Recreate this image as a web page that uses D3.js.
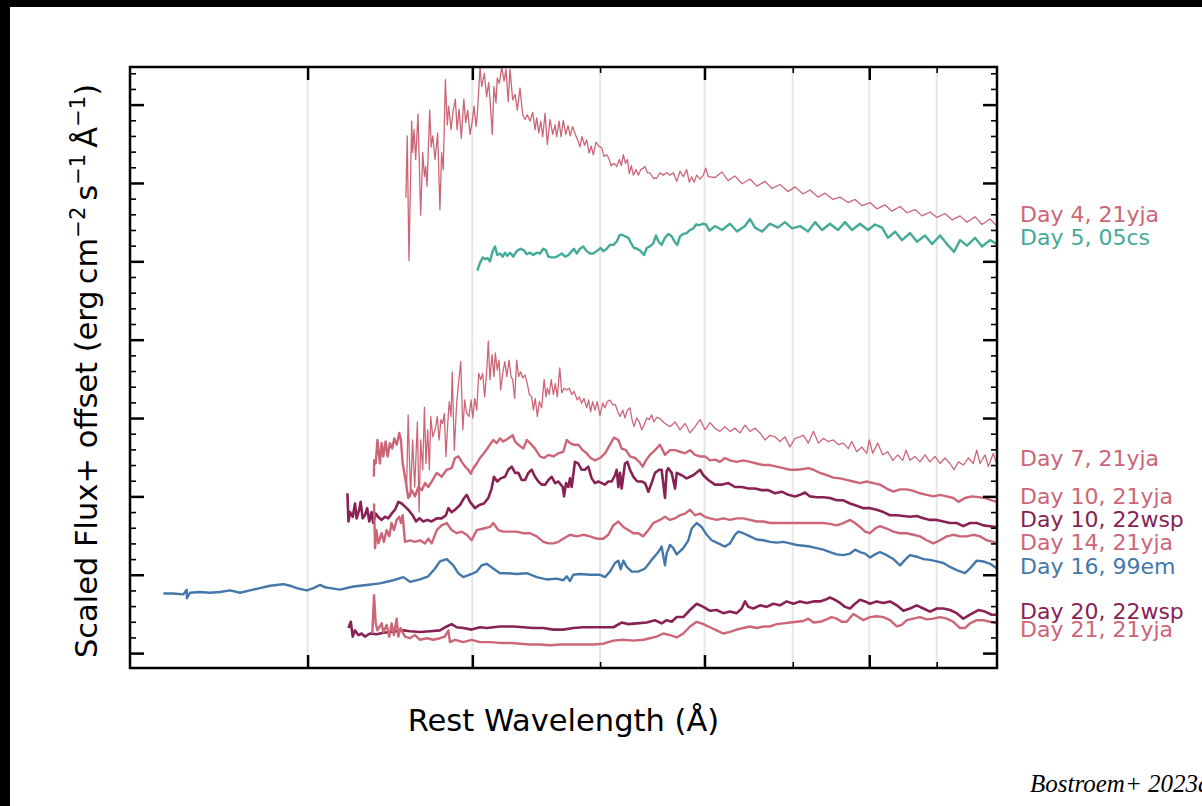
<!DOCTYPE html>
<html><head><meta charset="utf-8">
<script src="https://cdn.jsdelivr.net/npm/d3@7"></script>
<style>body{margin:0;background:#fff;}svg{display:block;}</style>
</head><body>
<svg id="c" width="1202" height="806"></svg>
<script>
// ---------------- data (rest wavelength in Å, scaled flux + offset) ----------------
const day4_21yja = [[3562,5.81],[3570,6.60],[3581,5.01],[3598,6.79],[3604,6.39],[3613,6.68],[3623,6.30],[3638,6.88],[3655,5.59],[3668,6.39],[3679,6.08],[3687,6.21],[3696,5.96],[3713,6.93],[3723,6.46],[3733,6.60],[3748,6.30],[3765,6.64],[3780,5.66],[3791,6.39],[3802,6.17],[3816,7.32],[3829,6.74],[3838,6.98],[3854,6.68],[3869,6.93],[3883,7.07],[3895,6.68],[3909,6.94],[3924,6.57],[3941,7.07],[3954,6.77],[3968,6.93],[3984,6.62],[3998,6.77],[4012,6.98],[4026,6.72],[4035,6.87],[4054,7.48],[4066,7.23],[4085,7.40],[4101,7.10],[4116,7.28],[4125,7.08],[4142,6.62],[4154,7.23],[4169,7.02],[4178,7.34],[4193,7.27],[4211,7.48],[4228,7.30],[4242,7.45],[4259,7.04],[4272,7.45],[4292,7.06],[4310,7.13],[4327,6.93],[4347,7.21],[4368,6.87],[4386,6.81],[4403,6.87],[4424,6.79],[4445,6.90],[4463,6.68],[4476,6.83],[4492,6.64],[4508,6.79],[4523,6.59],[4542,6.89],[4560,6.49],[4581,6.81],[4603,6.62],[4622,6.74],[4635,6.59],[4654,6.79],[4670,6.59],[4689,6.80],[4709,6.62],[4728,6.73],[4746,6.60],[4766,6.72],[4788,6.62],[4808,6.55],[4827,6.46],[4844,6.59],[4867,6.48],[4884,6.55],[4906,6.38],[4923,6.47],[4941,6.36],[4964,6.52],[4988,6.47],[5014,6.45],[5034,6.34],[5058,6.36],[5081,6.30],[5096,6.22],[5123,6.25],[5147,6.21],[5171,6.30],[5189,6.22],[5207,6.36],[5226,6.25],[5244,6.30],[5262,6.12],[5280,6.22],[5299,6.10],[5324,6.17],[5345,6.10],[5368,6.17],[5392,6.19],[5408,6.21],[5430,6.13],[5455,6.13],[5487,6.06],[5519,6.06],[5551,6.13],[5583,6.10],[5617,6.13],[5649,6.10],[5682,6.13],[5716,6.02],[5749,6.15],[5782,6.08],[5816,6.17],[5843,6.01],[5867,6.08],[5891,6.01],[5919,6.10],[5953,6.05],[5988,6.10],[6013,6.19],[6040,6.08],[6111,6.07],[6186,6.14],[6251,6.03],[6328,6.09],[6406,5.99],[6496,6.05],[6576,5.96],[6669,6.02],[6751,5.93],[6845,5.98],[6942,5.89],[7028,5.95],[7127,5.86],[7214,5.91],[7316,5.82],[7406,5.87],[7510,5.79],[7602,5.82],[7709,5.75],[7804,5.79],[7900,5.71],[8011,5.75],[8109,5.67],[8224,5.72],[8325,5.64],[8442,5.70],[8546,5.62],[8666,5.66],[8773,5.58],[8896,5.63],[9006,5.56],[9132,5.61],[9245,5.53],[9375,5.58],[9490,5.50],[9623,5.57],[9742,5.47],[9879,5.54],[10000,5.45]];

const day5_05cs = [[4035,4.88],[4054,4.98],[4073,5.05],[4090,5.03],[4109,5.04],[4125,5.00],[4145,5.13],[4162,5.19],[4178,5.08],[4198,5.10],[4218,5.06],[4235,5.11],[4252,5.07],[4272,5.11],[4297,5.06],[4322,5.13],[4352,5.16],[4378,5.14],[4398,5.09],[4424,5.11],[4450,5.08],[4476,5.11],[4502,5.10],[4528,5.16],[4549,5.14],[4567,5.06],[4595,5.05],[4622,5.05],[4648,5.07],[4676,5.10],[4703,5.06],[4731,5.08],[4758,5.13],[4777,5.16],[4800,5.10],[4827,5.16],[4855,5.19],[4884,5.13],[4912,5.10],[4941,5.10],[4970,5.13],[5005,5.17],[5028,5.13],[5058,5.16],[5087,5.21],[5117,5.21],[5147,5.25],[5171,5.33],[5192,5.34],[5222,5.32],[5253,5.30],[5275,5.24],[5305,5.17],[5336,5.16],[5368,5.13],[5399,5.08],[5424,5.17],[5455,5.19],[5487,5.23],[5513,5.33],[5538,5.25],[5567,5.21],[5600,5.30],[5632,5.35],[5666,5.32],[5699,5.24],[5722,5.21],[5749,5.32],[5782,5.35],[5816,5.36],[5850,5.40],[5884,5.42],[5912,5.47],[5946,5.46],[5981,5.48],[6016,5.47],[6051,5.39],[6111,5.45],[6186,5.40],[6273,5.48],[6351,5.38],[6440,5.45],[6496,5.54],[6553,5.43],[6634,5.38],[6727,5.48],[6821,5.43],[6905,5.50],[6991,5.42],[7089,5.45],[7189,5.38],[7278,5.50],[7367,5.40],[7470,5.48],[7576,5.40],[7669,5.50],[7763,5.40],[7872,5.48],[7983,5.40],[8081,5.47],[8181,5.43],[8267,5.30],[8369,5.38],[8472,5.27],[8590,5.36],[8696,5.25],[8819,5.33],[8927,5.22],[9053,5.33],[9164,5.22],[9277,5.12],[9375,5.27],[9490,5.20],[9623,5.30],[9742,5.19],[9879,5.27],[10000,5.22]];

const day7_21yja = [[3566,2.08],[3576,3.04],[3591,2.00],[3604,2.72],[3617,2.12],[3634,2.95],[3645,1.80],[3655,2.72],[3668,2.34],[3679,3.14],[3689,2.42],[3700,2.85],[3711,2.34],[3720,3.02],[3733,2.76],[3748,2.85],[3763,3.02],[3774,2.72],[3787,2.98],[3798,2.93],[3809,3.06],[3820,2.51],[3832,2.93],[3842,3.21],[3854,3.02],[3862,3.59],[3876,2.59],[3892,3.19],[3906,3.46],[3920,3.72],[3934,2.85],[3947,3.23],[3961,3.06],[3977,3.02],[3991,3.23],[4003,3.00],[4017,3.25],[4031,3.10],[4045,3.57],[4059,3.49],[4073,3.57],[4087,3.27],[4101,3.57],[4113,3.98],[4125,3.49],[4140,3.81],[4154,3.53],[4164,3.83],[4178,3.61],[4191,3.74],[4203,3.36],[4218,3.57],[4233,3.72],[4248,3.53],[4265,3.74],[4280,3.53],[4292,3.49],[4307,3.25],[4322,3.74],[4337,3.53],[4352,3.59],[4368,3.51],[4386,3.55],[4403,3.44],[4419,3.30],[4437,3.27],[4450,3.10],[4465,3.25],[4481,3.02],[4497,3.21],[4515,3.13],[4534,3.49],[4549,3.27],[4560,3.38],[4575,3.30],[4591,3.49],[4608,3.30],[4624,3.44],[4640,3.27],[4660,3.64],[4676,3.32],[4695,3.38],[4717,3.36],[4738,3.38],[4758,3.30],[4777,3.34],[4805,3.23],[4821,3.27],[4841,3.19],[4861,3.25],[4884,3.13],[4901,3.23],[4918,3.08],[4935,3.21],[4955,3.10],[4975,3.21],[4999,3.03],[5023,3.19],[5043,3.13],[5063,3.21],[5087,3.23],[5111,3.17],[5135,3.17],[5157,3.08],[5177,3.02],[5202,3.10],[5222,3.00],[5244,3.10],[5268,3.13],[5287,2.98],[5305,2.89],[5330,3.00],[5354,2.95],[5377,2.85],[5399,2.91],[5424,3.00],[5448,2.98],[5471,3.04],[5493,2.95],[5519,3.01],[5544,3.00],[5600,2.93],[5649,2.89],[5699,2.95],[5749,2.85],[5800,2.93],[5850,2.81],[5902,2.89],[5953,2.98],[6006,2.85],[6058,2.94],[6111,2.87],[6164,2.83],[6218,2.89],[6273,2.83],[6328,2.87],[6384,2.81],[6440,2.91],[6496,2.83],[6553,2.87],[6611,2.81],[6669,2.72],[6727,2.78],[6786,2.76],[6845,2.70],[6905,2.76],[6966,2.63],[7028,2.74],[7089,2.76],[7131,2.78],[7193,2.68],[7257,2.83],[7320,2.68],[7384,2.74],[7448,2.70],[7514,2.72],[7580,2.66],[7646,2.68],[7713,2.61],[7759,2.70],[7827,2.57],[7896,2.63],[7965,2.55],[8001,2.72],[8049,2.55],[8119,2.68],[8191,2.53],[8263,2.57],[8336,2.46],[8409,2.53],[8482,2.46],[8531,2.59],[8590,2.46],[8666,2.51],[8742,2.44],[8819,2.53],[8896,2.44],[8974,2.51],[9053,2.42],[9132,2.49],[9212,2.42],[9277,2.34],[9348,2.44],[9429,2.40],[9511,2.49],[9595,2.42],[9652,2.59],[9708,2.42],[9793,2.53],[9850,2.38],[9936,2.55],[10000,2.40]];

const day10_21yja = [[3368,2.25],[3370,2.46],[3379,2.42],[3389,2.72],[3404,2.42],[3414,2.68],[3424,2.51],[3438,2.70],[3450,2.51],[3464,2.68],[3478,2.61],[3490,2.74],[3505,2.66],[3521,2.81],[3531,2.72],[3542,2.42],[3556,2.25],[3577,1.98],[3598,2.08],[3619,2.00],[3640,2.12],[3662,2.08],[3683,2.17],[3704,2.12],[3726,2.19],[3759,2.30],[3791,2.25],[3825,2.34],[3858,2.36],[3881,2.49],[3904,2.51],[3927,2.44],[3950,2.38],[3972,2.34],[3989,2.29],[4007,2.36],[4031,2.42],[4054,2.49],[4090,2.57],[4125,2.66],[4149,2.72],[4174,2.68],[4198,2.74],[4222,2.70],[4259,2.74],[4292,2.78],[4310,2.70],[4335,2.66],[4373,2.61],[4399,2.72],[4424,2.68],[4463,2.61],[4502,2.51],[4534,2.49],[4568,2.53],[4608,2.51],[4648,2.55],[4689,2.57],[4717,2.72],[4744,2.68],[4771,2.66],[4813,2.66],[4850,2.59],[4884,2.55],[4918,2.49],[4955,2.46],[4999,2.49],[5043,2.55],[5087,2.66],[5123,2.75],[5162,2.72],[5192,2.61],[5231,2.59],[5268,2.51],[5314,2.49],[5354,2.44],[5386,2.38],[5417,2.46],[5455,2.53],[5503,2.59],[5551,2.66],[5600,2.53],[5649,2.59],[5699,2.59],[5749,2.57],[5800,2.55],[5850,2.59],[5902,2.53],[5953,2.51],[6006,2.51],[6058,2.46],[6111,2.47],[6164,2.44],[6218,2.49],[6273,2.46],[6347,2.44],[6421,2.46],[6496,2.44],[6573,2.42],[6650,2.40],[6727,2.40],[6806,2.38],[6885,2.36],[6966,2.34],[7048,2.34],[7131,2.35],[7193,2.36],[7257,2.34],[7341,2.30],[7427,2.27],[7514,2.24],[7602,2.23],[7691,2.21],[7781,2.19],[7872,2.17],[7965,2.19],[8058,2.17],[8152,2.15],[8248,2.10],[8345,2.06],[8442,2.09],[8541,2.09],[8641,2.07],[8742,2.04],[8845,2.02],[8948,2.00],[9053,2.02],[9159,2.00],[9266,1.98],[9348,1.93],[9457,1.98],[9567,2.00],[9679,1.99],[9793,1.98],[9908,1.95],[10000,1.93]];

const day10_22wsp = [[3216,2.04],[3222,1.68],[3231,1.80],[3246,1.74],[3259,1.91],[3268,1.72],[3283,1.83],[3291,1.93],[3303,1.72],[3316,1.76],[3329,1.85],[3341,1.68],[3355,1.80],[3364,1.66],[3380,1.78],[3393,1.74],[3414,1.70],[3434,1.74],[3454,1.72],[3474,1.78],[3495,1.83],[3515,1.93],[3536,1.91],[3556,1.87],[3577,1.83],[3604,1.76],[3625,1.68],[3647,1.72],[3672,1.68],[3698,1.70],[3726,1.68],[3759,1.72],[3791,1.72],[3820,1.76],[3836,1.85],[3858,1.80],[3881,1.83],[3915,1.89],[3943,1.98],[3961,2.02],[3984,1.93],[4019,1.85],[4049,1.89],[4082,1.91],[4113,1.98],[4137,2.10],[4154,2.25],[4178,2.19],[4203,2.23],[4235,2.25],[4259,2.34],[4285,2.38],[4310,2.30],[4335,2.30],[4360,2.21],[4386,2.21],[4411,2.30],[4437,2.34],[4463,2.25],[4489,2.19],[4515,2.15],[4542,2.15],[4568,2.21],[4595,2.25],[4622,2.17],[4648,2.19],[4684,2.12],[4695,2.00],[4711,2.17],[4730,2.12],[4744,2.23],[4758,2.12],[4785,2.44],[4813,2.42],[4841,2.34],[4869,2.34],[4898,2.38],[4927,2.23],[4955,2.17],[4985,2.19],[5014,2.17],[5043,2.15],[5072,2.19],[5102,2.19],[5132,2.27],[5147,2.34],[5162,2.12],[5177,2.30],[5192,2.10],[5222,2.42],[5244,2.44],[5268,2.34],[5299,2.25],[5336,2.19],[5377,2.19],[5408,2.17],[5440,2.06],[5471,2.17],[5503,2.30],[5544,2.34],[5567,2.34],[5600,1.98],[5616,2.32],[5632,2.36],[5666,2.30],[5699,2.10],[5716,2.30],[5766,2.27],[5816,2.23],[5884,2.27],[5953,2.34],[5988,2.27],[6040,2.21],[6111,2.15],[6182,2.15],[6255,2.17],[6328,2.12],[6403,2.12],[6478,2.10],[6553,2.10],[6630,2.08],[6707,2.08],[6786,2.04],[6865,2.06],[6946,2.02],[7028,2.00],[7089,2.02],[7152,2.05],[7214,2.00],[7299,1.99],[7384,1.99],[7470,1.98],[7558,1.95],[7646,1.95],[7736,1.91],[7827,1.88],[7919,1.85],[8011,1.85],[8105,1.83],[8200,1.80],[8296,1.76],[8394,1.76],[8491,1.75],[8590,1.74],[8692,1.75],[8794,1.72],[8896,1.70],[9001,1.70],[9106,1.68],[9212,1.66],[9321,1.66],[9429,1.62],[9539,1.66],[9652,1.66],[9765,1.63],[9879,1.62],[10000,1.61]];

const day14_21yja = [[3369,1.91],[3375,1.34],[3383,1.57],[3395,1.40],[3414,1.53],[3428,1.42],[3444,1.57],[3460,1.49],[3474,1.66],[3488,1.57],[3505,1.70],[3521,1.74],[3531,1.66],[3542,1.76],[3556,1.42],[3587,1.44],[3619,1.42],[3651,1.44],[3683,1.40],[3704,1.46],[3726,1.40],[3759,1.57],[3791,1.63],[3825,1.66],[3858,1.57],[3892,1.53],[3927,1.55],[3961,1.51],[3995,1.44],[4031,1.57],[4080,1.59],[4125,1.61],[4149,1.66],[4186,1.57],[4222,1.55],[4272,1.55],[4322,1.55],[4373,1.53],[4424,1.53],[4476,1.49],[4528,1.42],[4568,1.40],[4608,1.40],[4648,1.42],[4689,1.46],[4744,1.51],[4800,1.49],[4855,1.51],[4912,1.49],[4970,1.46],[5028,1.46],[5072,1.51],[5117,1.63],[5162,1.68],[5207,1.61],[5253,1.57],[5299,1.53],[5345,1.53],[5392,1.49],[5440,1.57],[5487,1.66],[5551,1.70],[5600,1.74],[5649,1.70],[5699,1.72],[5749,1.76],[5800,1.78],[5850,1.83],[5902,1.76],[5953,1.78],[6006,1.74],[6058,1.72],[6129,1.70],[6200,1.72],[6273,1.70],[6347,1.72],[6421,1.72],[6496,1.70],[6573,1.68],[6650,1.68],[6727,1.66],[6806,1.66],[6885,1.66],[6966,1.66],[7048,1.66],[7131,1.66],[7214,1.66],[7299,1.66],[7384,1.66],[7470,1.65],[7558,1.63],[7646,1.66],[7736,1.70],[7804,1.66],[7872,1.61],[7942,1.55],[8011,1.53],[8081,1.59],[8152,1.62],[8248,1.59],[8345,1.55],[8442,1.53],[8541,1.53],[8641,1.51],[8742,1.49],[8845,1.44],[8948,1.40],[9053,1.44],[9159,1.49],[9266,1.51],[9375,1.49],[9485,1.49],[9595,1.51],[9708,1.49],[9822,1.44],[9936,1.42],[10000,1.40]];

const day16_99em = [[2332,0.76],[2373,0.76],[2415,0.75],[2429,0.81],[2430,0.70],[2443,0.77],[2486,0.78],[2530,0.77],[2574,0.78],[2620,0.80],[2666,0.77],[2713,0.80],[2761,0.83],[2809,0.86],[2843,0.87],[2876,0.88],[2909,0.86],[2943,0.83],[2995,0.80],[3031,0.83],[3066,0.87],[3093,0.84],[3120,0.83],[3175,0.81],[3250,0.85],[3326,0.87],[3404,0.89],[3484,0.93],[3546,0.97],[3587,0.91],[3651,0.94],[3704,0.98],[3748,1.08],[3780,1.17],[3825,1.20],[3869,1.12],[3903,1.02],[3938,0.97],[3995,1.01],[4031,1.04],[4066,1.12],[4101,1.14],[4149,1.08],[4198,1.02],[4248,1.02],[4322,1.01],[4399,1.02],[4476,0.97],[4555,0.94],[4635,0.95],[4689,0.93],[4717,0.98],[4744,0.92],[4771,1.00],[4827,1.01],[4912,1.00],[4999,1.00],[5043,0.97],[5087,1.04],[5132,1.15],[5162,1.18],[5183,1.07],[5207,1.18],[5238,1.10],[5284,1.04],[5345,1.04],[5408,1.08],[5471,1.19],[5535,1.29],[5567,1.36],[5600,1.12],[5616,1.27],[5649,1.38],[5682,1.34],[5716,1.26],[5782,1.34],[5833,1.44],[5867,1.59],[5919,1.66],[5970,1.61],[6023,1.51],[6076,1.44],[6147,1.40],[6218,1.36],[6273,1.40],[6328,1.51],[6365,1.55],[6421,1.53],[6496,1.49],[6573,1.45],[6650,1.44],[6727,1.42],[6806,1.41],[6885,1.42],[6966,1.40],[7048,1.38],[7131,1.37],[7214,1.36],[7299,1.34],[7384,1.32],[7470,1.29],[7558,1.26],[7646,1.25],[7736,1.27],[7804,1.32],[7872,1.29],[7942,1.27],[8011,1.22],[8081,1.26],[8152,1.29],[8248,1.25],[8345,1.20],[8442,1.12],[8516,1.19],[8590,1.25],[8692,1.23],[8794,1.20],[8896,1.19],[9001,1.17],[9106,1.15],[9212,1.10],[9321,1.06],[9457,1.02],[9539,1.08],[9652,1.18],[9765,1.17],[9879,1.14],[10000,1.08]];

const day20_22wsp = [[3222,0.32],[3235,0.40],[3246,0.21],[3259,0.29],[3278,0.23],[3297,0.25],[3316,0.21],[3345,0.25],[3384,0.24],[3424,0.26],[3464,0.27],[3505,0.28],[3546,0.29],[3587,0.28],[3651,0.27],[3715,0.28],[3780,0.29],[3825,0.34],[3858,0.37],[3892,0.33],[3938,0.32],[3995,0.30],[4054,0.33],[4101,0.32],[4149,0.33],[4198,0.34],[4248,0.34],[4297,0.34],[4373,0.33],[4450,0.32],[4528,0.32],[4608,0.30],[4689,0.30],[4771,0.32],[4855,0.33],[4941,0.33],[5028,0.33],[5117,0.33],[5192,0.39],[5253,0.37],[5330,0.38],[5424,0.39],[5503,0.42],[5567,0.38],[5616,0.42],[5666,0.40],[5716,0.46],[5782,0.46],[5850,0.55],[5919,0.63],[5988,0.59],[6058,0.54],[6129,0.55],[6200,0.51],[6273,0.53],[6347,0.51],[6403,0.57],[6440,0.66],[6478,0.59],[6534,0.57],[6611,0.61],[6688,0.59],[6766,0.63],[6845,0.61],[6926,0.66],[7007,0.63],[7089,0.66],[7172,0.64],[7257,0.66],[7341,0.66],[7406,0.68],[7470,0.71],[7536,0.68],[7602,0.64],[7669,0.59],[7736,0.57],[7804,0.63],[7872,0.68],[7942,0.66],[8011,0.63],[8105,0.66],[8200,0.64],[8296,0.66],[8394,0.61],[8491,0.54],[8590,0.57],[8692,0.61],[8794,0.57],[8896,0.53],[9001,0.57],[9106,0.57],[9212,0.55],[9321,0.51],[9429,0.44],[9539,0.49],[9679,0.55],[9793,0.53],[9908,0.49],[10000,0.49]];

const day21_21yja = [[3359,0.25],[3369,0.74],[3379,0.38],[3389,0.29],[3414,0.38],[3424,0.27],[3444,0.36],[3460,0.21],[3474,0.38],[3488,0.23],[3505,0.44],[3515,0.21],[3529,0.32],[3556,0.21],[3587,0.19],[3619,0.23],[3651,0.17],[3694,0.19],[3737,0.17],[3780,0.19],[3813,0.21],[3836,0.29],[3847,0.14],[3881,0.17],[3938,0.14],[3995,0.17],[4054,0.14],[4125,0.14],[4198,0.13],[4272,0.13],[4347,0.12],[4424,0.11],[4502,0.11],[4581,0.10],[4662,0.11],[4744,0.11],[4827,0.11],[4941,0.11],[5028,0.12],[5117,0.16],[5207,0.17],[5299,0.16],[5392,0.17],[5455,0.19],[5519,0.21],[5583,0.25],[5649,0.23],[5716,0.20],[5782,0.25],[5850,0.34],[5919,0.40],[5988,0.37],[6058,0.33],[6129,0.29],[6200,0.25],[6273,0.27],[6347,0.30],[6421,0.32],[6496,0.34],[6573,0.32],[6650,0.34],[6727,0.34],[6806,0.37],[6885,0.38],[6966,0.39],[7048,0.40],[7131,0.41],[7193,0.44],[7257,0.39],[7341,0.40],[7427,0.43],[7492,0.46],[7558,0.44],[7624,0.40],[7691,0.40],[7781,0.50],[7849,0.46],[7919,0.42],[8011,0.46],[8105,0.47],[8200,0.46],[8296,0.42],[8394,0.34],[8467,0.36],[8541,0.42],[8641,0.44],[8742,0.46],[8845,0.43],[8948,0.44],[9053,0.46],[9159,0.44],[9266,0.40],[9375,0.32],[9457,0.32],[9539,0.38],[9652,0.42],[9765,0.42],[9879,0.40],[10000,0.38]];

const labelTexts = ["Day 4, 21yja","Day 5, 05cs","Day 7, 21yja","Day 10, 21yja","Day 10, 22wsp","Day 14, 21yja","Day 16, 99em","Day 20, 22wsp","Day 21, 21yja"];
const labelLevels = [5.50, 5.21, 2.39, 1.90, 1.61, 1.31, 1.01, 0.44, 0.21];
const xMajorTicks = [3000, 4000, 6000, 8000];
const xMinorTicks = [5000, 7000, 9000];
const xGrid = [3000, 4000, 5000, 6000, 7000, 8000, 9000];
const yMajorTicks = [0, 1, 2, 3, 4, 5, 6, 7];
const yMinorTicks = [0.2,0.4,0.6,0.8,1.2,1.4,1.6,1.8,2.2,2.4,2.6,2.8,3.2,3.4,3.6,3.8,4.2,4.4,4.6,4.8,5.2,5.4,5.6,5.8,6.2,6.4,6.6,6.8,7.2,7.4];

// ---------------- drawing ----------------
const C21 = "#CC6677", C05 = "#44AA99", C22 = "#882255", C99 = "#4477AA";
const series = [
  {data: day4_21yja,  color: C21, w: 1.3},
  {data: day5_05cs,   color: C05, w: 2.4},
  {data: day7_21yja,  color: C21, w: 1.3},
  {data: day10_21yja, color: C21, w: 2.4},
  {data: day10_22wsp, color: C22, w: 2.6},
  {data: day14_21yja, color: C21, w: 2.4},
  {data: day16_99em,  color: C99, w: 2.4},
  {data: day20_22wsp, color: C22, w: 2.6},
  {data: day21_21yja, color: C21, w: 2.4}
];
const labelColors = [C21, C05, C21, C21, C22, C21, C99, C22, C21];

const L = 130, R = 997, T = 67, B = 668;
const svg = d3.select("#c");
svg.append("rect").attr("width",1202).attr("height",806).attr("fill","#fff");

const x = d3.scaleLog().domain([2200, 10000]).range([L, R]);
const y = d3.scaleLinear().domain([-0.19, 7.48]).range([B, T]);

svg.append("defs").append("clipPath").attr("id","clip")
  .append("rect").attr("x",L).attr("y",T).attr("width",R-L).attr("height",B-T);

// grid
svg.append("g").selectAll("line").data(xGrid).join("line")
  .attr("x1", d=>x(d)).attr("x2", d=>x(d)).attr("y1", T).attr("y2", B)
  .attr("stroke", "#e6e6e6").attr("stroke-width", 2);

// spectra
const line = d3.line().x(d=>x(d[0])).y(d=>y(d[1]));
const gl = svg.append("g").attr("clip-path","url(#clip)");
series.forEach(s => {
  gl.append("path").datum(s.data).attr("d", line)
    .attr("fill","none").attr("stroke", s.color).attr("stroke-width", s.w)
    .attr("stroke-linejoin","round");
});

// axes ticks (inward, no labels)
function styleAxis(g, w){ g.select(".domain").remove(); g.selectAll("line").attr("stroke","#000").attr("stroke-width",w); g.selectAll("text").remove(); }
svg.append("g").attr("transform",`translate(0,${B})`).call(d3.axisBottom(x).tickValues(xMajorTicks).tickSize(-13).tickFormat("")).call(g=>styleAxis(g,2.5));
svg.append("g").attr("transform",`translate(0,${B})`).call(d3.axisBottom(x).tickValues(xMinorTicks).tickSize(-6).tickFormat("")).call(g=>styleAxis(g,1.6));
svg.append("g").attr("transform",`translate(0,${T})`).call(d3.axisTop(x).tickValues(xMajorTicks).tickSize(-13).tickFormat("")).call(g=>styleAxis(g,2.5));
svg.append("g").attr("transform",`translate(0,${T})`).call(d3.axisTop(x).tickValues(xMinorTicks).tickSize(-6).tickFormat("")).call(g=>styleAxis(g,1.6));
svg.append("g").attr("transform",`translate(${L},0)`).call(d3.axisLeft(y).tickValues(yMajorTicks).tickSize(-14).tickFormat("")).call(g=>styleAxis(g,2.5));
svg.append("g").attr("transform",`translate(${L},0)`).call(d3.axisLeft(y).tickValues(yMinorTicks).tickSize(-6).tickFormat("")).call(g=>styleAxis(g,1.6));
svg.append("g").attr("transform",`translate(${R},0)`).call(d3.axisRight(y).tickValues(yMajorTicks).tickSize(-14).tickFormat("")).call(g=>styleAxis(g,2.5));
svg.append("g").attr("transform",`translate(${R},0)`).call(d3.axisRight(y).tickValues(yMinorTicks).tickSize(-6).tickFormat("")).call(g=>styleAxis(g,1.6));

// frame
svg.append("rect").attr("x",L).attr("y",T).attr("width",R-L).attr("height",B-T)
  .attr("fill","none").attr("stroke","#000").attr("stroke-width",2.5);

// labels at right
svg.append("g").selectAll("text").data(labelTexts).join("text")
  .attr("x", R + 23).attr("y", (d,i)=>y(labelLevels[i]))
  .attr("fill", (d,i)=>labelColors[i])
  .attr("font-family","DejaVu Sans").attr("font-size",22)
  .text(d=>d);

// axis titles
svg.append("text").attr("x",(L+R)/2).attr("y",731).attr("text-anchor","middle")
  .attr("font-family","DejaVu Sans").attr("font-size",30.5).attr("fill","#000")
  .text("Rest Wavelength (Å)");

const yl = svg.append("text").attr("transform","translate(97,371) rotate(-90)")
  .attr("text-anchor","middle").attr("font-family","DejaVu Sans").attr("font-size",30.5).attr("fill","#000");
yl.append("tspan").text("Scaled Flux+ offset (erg\u2009cm");
yl.append("tspan").attr("dy",-12).attr("font-size",21).text("\u22122");
yl.append("tspan").attr("dy",12).text("\u2009s");
yl.append("tspan").attr("dy",-12).attr("font-size",21).text("\u22121");
yl.append("tspan").attr("dy",12).text("\u2009Å");
yl.append("tspan").attr("dy",-12).attr("font-size",21).text("\u22121");
yl.append("tspan").attr("dy",12).text(")");

// credit
svg.append("text").attr("x",1030).attr("y",792)
  .attr("font-family","Liberation Serif").attr("font-style","italic").attr("font-size",25).attr("fill","#000")
  .text("Bostroem+ 2023a");

// black border bands of the original image
svg.append("rect").attr("x",0).attr("y",0).attr("width",1202).attr("height",7).attr("fill","#000");
svg.append("rect").attr("x",0).attr("y",0).attr("width",10).attr("height",806).attr("fill","#000");
</script>
</body></html>
